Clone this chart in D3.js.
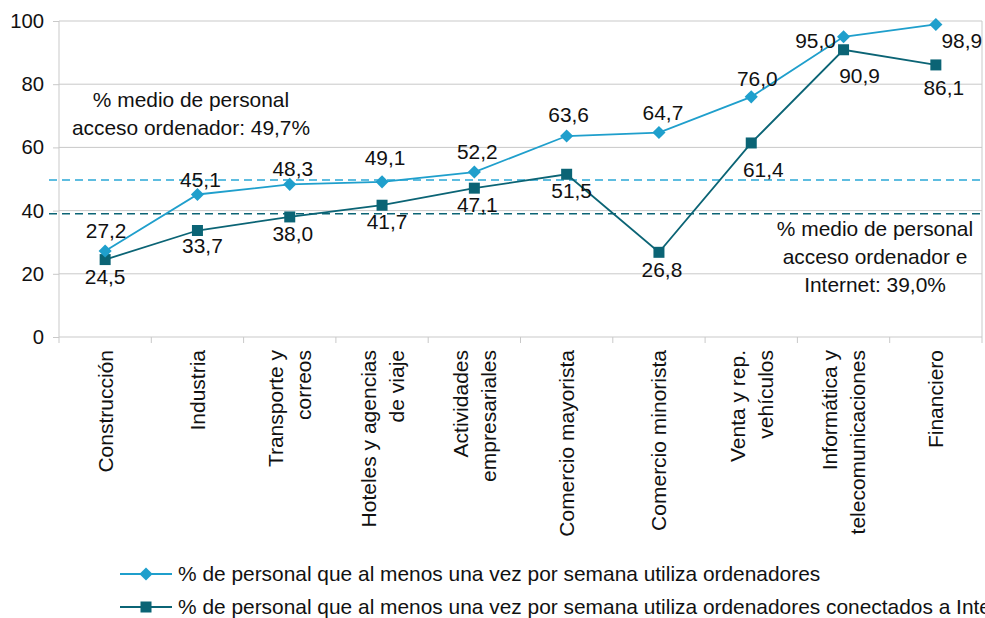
<!DOCTYPE html>
<html>
<head>
<meta charset="utf-8">
<script src="https://cdn.jsdelivr.net/npm/d3@7"></script>
<style>
  html, body { margin: 0; padding: 0; background: #fff; }
  svg { display: block; font-family: "Liberation Sans", Arial, sans-serif; }
</style>
</head>
<body>
<svg id="chart" width="985" height="618"></svg>
<script>
// Sectors (line breaks mark wrapped axis labels)
const categories = [
  "Construcción",
  "Industria",
  "Transporte y\ncorreos",
  "Hoteles y agencias\nde viaje",
  "Actividades\nempresariales",
  "Comercio mayorista",
  "Comercio minorista",
  "Venta y rep.\nvehículos",
  "Informática y\ntelecomunicaciones",
  "Financiero"
];
// % of staff using computers at least once a week
const computerUse = [27.2, 45.1, 48.3, 49.1, 52.2, 63.6, 64.7, 76.0, 95.0, 98.9];
// % of staff using Internet-connected computers at least once a week
const internetUse = [24.5, 33.7, 38.0, 41.7, 47.1, 51.5, 26.8, 61.4, 90.9, 86.1];
// Averages across all sectors
const averages = [49.7, 39.0];
const yTicks = [0, 20, 40, 60, 80, 100];
const seriesNames = [
  "% de personal que al menos una vez por semana utiliza ordenadores",
  "% de personal que al menos una vez por semana utiliza ordenadores conectados a Internet"
];
const avgNotes = [
  ["% medio de personal", "acceso ordenador: 49,7%"],
  ["% medio de personal", "acceso ordenador e", "Internet: 39,0%"]
];

const colLight = "#1f9fcc";
const colDark = "#0b6475";
const gridCol = "#c9c9c9";
const fs = 20.9;

const svg = d3.select("#chart");
const x = d3.scaleBand().domain(categories).range([59, 982]);
const y = d3.scaleLinear().domain([0, 100]).range([337, 21]);
const cx = c => x(c) + x.bandwidth() / 2;
const fmt = v => d3.format(".1f")(v).replace(".", ",");

// Horizontal gridlines
svg.append("g").selectAll("line").data(yTicks.filter(t => t > 0)).join("line")
  .attr("x1", 59).attr("x2", 982)
  .attr("y1", d => y(d)).attr("y2", d => y(d))
  .attr("stroke", gridCol).attr("stroke-width", 1);
// Right border of plot
svg.append("line").attr("x1", 982).attr("x2", 982).attr("y1", y(100)).attr("y2", y(0))
  .attr("stroke", gridCol);

// Y axis
const yAxis = svg.append("g").attr("transform", "translate(59,0)")
  .call(d3.axisLeft(y).tickValues(yTicks).tickSize(6).tickPadding(9).tickFormat(d3.format("d")));
yAxis.select(".domain").attr("stroke", gridCol).attr("d", `M0,${y(100)}V${y(0)}`);
yAxis.selectAll(".tick line").attr("stroke", gridCol);
yAxis.selectAll(".tick text").attr("font-size", 20.3).attr("fill", "#111")
  .attr("font-family", "Liberation Sans, Arial, sans-serif");

// X axis baseline and boundary ticks
svg.append("line").attr("x1", 59).attr("x2", 982).attr("y1", y(0)).attr("y2", y(0))
  .attr("stroke", gridCol);
const bounds = categories.map(c => x(c)).concat([x.range()[1]]);
svg.append("g").selectAll("line").data(bounds).join("line")
  .attr("x1", d => d).attr("x2", d => d)
  .attr("y1", y(0)).attr("y2", y(0) + 6)
  .attr("stroke", gridCol);

// Category labels, rotated
const lineGap = 28;
categories.forEach(c => {
  const lines = c.split("\n");
  const g = svg.append("text")
    .attr("transform", `translate(${cx(c)},350) rotate(-90)`)
    .attr("text-anchor", "end").attr("font-size", 21).attr("fill", "#111");
  const off0 = 7.5 - (lines.length - 1) * lineGap / 2;
  lines.forEach((l, i) => {
    g.append("tspan").attr("x", 0).attr("y", off0 + i * lineGap).text(l);
  });
});

// Average dashed lines
svg.append("g").selectAll("line").data(averages).join("line")
  .attr("x1", 49).attr("x2", 982)
  .attr("y1", d => y(d)).attr("y2", d => y(d))
  .attr("stroke", (d, i) => i === 0 ? "#2aa8d6" : colDark)
  .attr("stroke-width", 1.6).attr("stroke-dasharray", "8,5");

// Average notes
const noteAnchors = [[191, 99.5], [875, 228.5]];
avgNotes.forEach((lines, k) => {
  lines.forEach((l, i) => {
    svg.append("text").attr("x", noteAnchors[k][0]).attr("y", noteAnchors[k][1] + i * 28 + 7.3)
      .attr("text-anchor", "middle").attr("font-size", fs).attr("fill", "#111").text(l);
  });
});

// Lines
const line = d3.line().x((d, i) => cx(categories[i])).y(d => y(d));
svg.append("path").datum(internetUse).attr("d", line)
  .attr("fill", "none").attr("stroke", colDark).attr("stroke-width", 1.8);
svg.append("path").datum(computerUse).attr("d", line)
  .attr("fill", "none").attr("stroke", colLight).attr("stroke-width", 1.8);

// Markers
const diamond = d3.symbol().type(d3.symbolDiamond2).size(110);
svg.append("g").selectAll("rect").data(internetUse).join("rect")
  .attr("x", (d, i) => cx(categories[i]) - 5.5).attr("y", d => y(d) - 5.5)
  .attr("width", 11).attr("height", 11).attr("fill", colDark);
svg.append("g").selectAll("path").data(computerUse).join("path")
  .attr("d", diamond)
  .attr("transform", (d, i) => `translate(${cx(categories[i])},${y(d)})`)
  .attr("fill", colLight);

// Data labels: offsets of label centre from its point
const offLight = [[1,-20],[3,-14.5],[3,-16],[3,-24],[3,-20],[2,-21.5],[4,-20],[6,-18],[-28,4],[26,16.5]];
const offDark = [[0,17],[5,15.5],[3,16.6],[5,16],[3,17],[5,16],[3,17],[12,27],[16,26],[8,22.6]];
function labels(data, offs) {
  svg.append("g").selectAll("text").data(data).join("text")
    .attr("x", (d, i) => cx(categories[i]) + offs[i][0])
    .attr("y", (d, i) => y(d) + offs[i][1] + 7.3)
    .attr("text-anchor", "middle").attr("font-size", fs).attr("fill", "#111")
    .text(d => fmt(d));
}
labels(computerUse, offLight);
labels(internetUse, offDark);

// Legend
const legend = svg.append("g");
[574, 607].forEach((ly, i) => {
  const col = i === 0 ? colLight : colDark;
  legend.append("line").attr("x1", 120).attr("x2", 172).attr("y1", ly).attr("y2", ly)
    .attr("stroke", col).attr("stroke-width", 1.8);
  if (i === 0) {
    legend.append("path").attr("d", diamond).attr("transform", `translate(146,${ly})`).attr("fill", col);
  } else {
    legend.append("rect").attr("x", 140.5).attr("y", ly - 5.5).attr("width", 11).attr("height", 11).attr("fill", col);
  }
  legend.append("text").attr("x", 178).attr("y", ly + 7.3).attr("font-size", fs).attr("fill", "#111")
    .text(seriesNames[i]);
});
</script>
</body>
</html>
